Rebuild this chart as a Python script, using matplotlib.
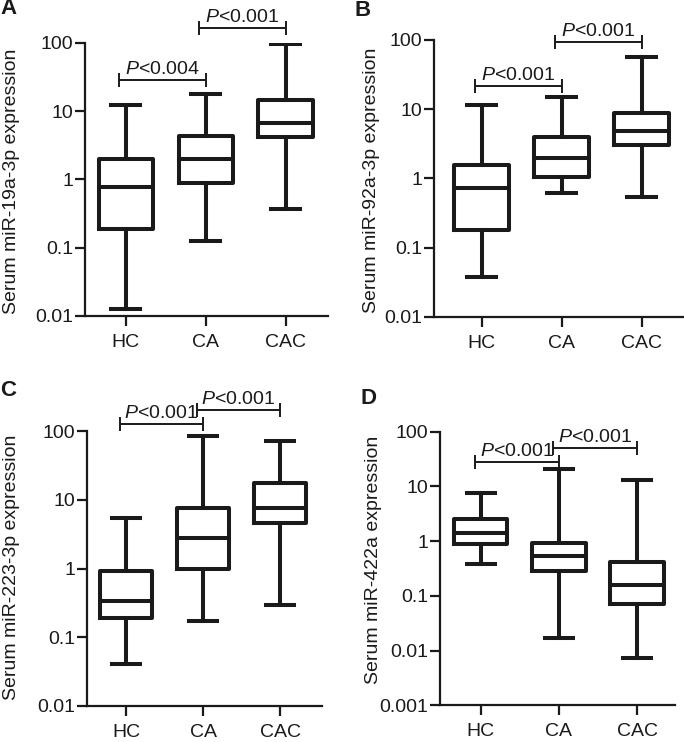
import math
import matplotlib
matplotlib.use("Agg")
import matplotlib.pyplot as plt
from matplotlib.ticker import FixedLocator, FuncFormatter, NullLocator

plt.rcParams['font.family'] = ['Liberation Sans', 'DejaVu Sans']
plt.rcParams['mathtext.fontset'] = 'custom'
plt.rcParams['mathtext.rm'] = 'Liberation Sans'
plt.rcParams['mathtext.it'] = 'Liberation Sans:italic'

categories = ["HC", "CA", "CAC"]

# Panel A: miR-19a-3p
a_whislo = [0.0128, 0.126, 0.368]
a_q1 = [0.19, 0.87, 4.2]
a_med = [0.76, 1.96, 6.6]
a_q3 = [1.96, 4.35, 14.5]
a_whishi = [12.2, 17.5, 97.0]
a_pvals = ["<0.004", "<0.001"]
a_ylabel = "Serum miR-19a-3p expression"

# Panel B: miR-92a-3p
b_whislo = [0.037, 0.62, 0.53]
b_q1 = [0.179, 1.03, 3.03]
b_med = [0.72, 1.95, 4.9]
b_q3 = [1.54, 4.0, 8.7]
b_whishi = [11.5, 14.8, 56.0]
b_pvals = ["<0.001", "<0.001"]
b_ylabel = "Serum miR-92a-3p expression"

# Panel C: miR-223-3p
c_whislo = [0.041, 0.172, 0.291]
c_q1 = [0.193, 1.0, 4.64]
c_med = [0.337, 2.75, 7.5]
c_q3 = [0.92, 7.7, 17.7]
c_whishi = [5.5, 84.0, 71.0]
c_pvals = ["<0.001", "<0.001"]
c_ylabel = "Serum miR-223-3p expression"

# Panel D: miR-422a
d_whislo = [0.39, 0.0172, 0.0072]
d_q1 = [0.875, 0.284, 0.07]
d_med = [1.39, 0.535, 0.158]
d_q3 = [2.5, 0.94, 0.42]
d_whishi = [7.7, 20.5, 13.1]
d_pvals = ["<0.001", "<0.001"]
d_ylabel = "Serum miR-422a expression"

W, H = 684, 742
fig = plt.figure(figsize=(W / 100, H / 100), dpi=100)
col = "#1a1a1a"


def px_axes(left, right, top, bottom):
    return fig.add_axes([left / W, 1 - bottom / H, (right - left) / W, (bottom - top) / H])


panels = [
    dict(letter="A", box=(85, 328, 42.7, 316), xlim=(-0.51, 2.53), ylim=(0.01, 100),
         stats=(a_whislo, a_q1, a_med, a_q3, a_whishi), p=a_pvals, ylabel=a_ylabel,
         br=[(0, 1, 28.4), (1, 2, 162)], lpos=(0, 9), ylpos=(12, 181)),
    dict(letter="B", box=(433.7, 684, 40, 316.7), xlim=(-0.60, 2.53), ylim=(0.01, 100),
         stats=(b_whislo, b_q1, b_med, b_q3, b_whishi), p=b_pvals, ylabel=b_ylabel,
         br=[(0, 1, 21.6), (1, 2, 94.6)], lpos=(355, 11), ylpos=(372, 180)),
    dict(letter="C", box=(86.7, 321.7, 431, 706), xlim=(-0.51, 2.54), ylim=(0.01, 100),
         stats=(c_whislo, c_q1, c_med, c_q3, c_whishi), p=c_pvals, ylabel=c_ylabel,
         br=[(0, 1, 125), (1, 2, 200)], lpos=(0, 391), ylpos=(12, 567)),
    dict(letter="D", box=(440.3, 675.3, 431.7, 705.3), xlim=(-0.52, 2.49), ylim=(0.001, 100),
         stats=(d_whislo, d_q1, d_med, d_q3, d_whishi), p=d_pvals, ylabel=d_ylabel,
         br=[(0, 1, 28.3), (1, 2, 49.6)], lpos=(360, 398), ylpos=(374, 560)),
]

lw = 2.9
fs = 14
for pn in panels:
    ax = px_axes(*pn["box"])
    wl, q1, med, q3, wh = pn["stats"]
    stats = []
    for i in range(3):
        stats.append(dict(whislo=wl[i], q1=q1[i], med=med[i], q3=q3[i], whishi=wh[i],
                          fliers=[], label=categories[i]))
    ax.bxp(stats, positions=[0, 1, 2], widths=0.68, capwidths=0.36, showfliers=False,
           boxprops=dict(color=col, linewidth=lw),
           whiskerprops=dict(color=col, linewidth=lw),
           capprops=dict(color=col, linewidth=lw),
           medianprops=dict(color=col, linewidth=lw))
    ax.set_yscale("log")
    ax.set_ylim(*pn["ylim"])
    ax.set_xlim(*pn["xlim"])
    lo, hi = pn["ylim"]
    ticks = [10 ** k for k in range(int(round(math.log10(lo))), int(round(math.log10(hi))) + 1)]
    ax.yaxis.set_major_locator(FixedLocator(ticks))
    ax.yaxis.set_minor_locator(NullLocator())
    ax.yaxis.set_major_formatter(FuncFormatter(lambda v, p: "{:g}".format(v)))
    ax.set_xticks([0, 1, 2])
    ax.set_xticklabels(categories)
    for s in ["top", "right"]:
        ax.spines[s].set_visible(False)
    for s in ["left", "bottom"]:
        ax.spines[s].set_linewidth(1.6)
        ax.spines[s].set_color(col)
    ax.tick_params(axis="both", length=7, width=1.6, color=col, labelsize=fs,
                   labelcolor=col)
    ax.tick_params(axis="y", pad=1.5)
    ax.tick_params(axis="x", pad=6)
    ax.patch.set_alpha(0)
    # brackets
    lo_l, hi_l = math.log10(lo), math.log10(hi)
    px_per_dec = (pn["box"][3] - pn["box"][2]) / (hi_l - lo_l)
    fac = 10 ** (7 / px_per_dec)
    tfac = 10 ** (6 / px_per_dec)
    for (x0, x1, yv), ptxt in zip(pn["br"], pn["p"]):
        xa, xb = x0 - 0.08, x1
        ax.plot([xa, xb], [yv, yv], color=col, lw=1.4, clip_on=False, solid_capstyle="butt")
        for xx in (xa, xb):
            ax.plot([xx, xx], [yv / fac, yv * fac], color=col, lw=1.4, clip_on=False,
                    solid_capstyle="butt")
        ax.text((xa + xb) / 2, yv * tfac, r"$\it{P}$" + ptxt, ha="center", va="baseline",
                fontsize=fs, color=col, clip_on=False)
    fig.text(pn["ylpos"][0] / W, 1 - pn["ylpos"][1] / H, pn["ylabel"], rotation=90,
             ha="center", va="center", fontsize=fs, color=col)
    fig.text(pn["lpos"][0] / W, 1 - pn["lpos"][1] / H, pn["letter"], fontsize=16,
             fontweight="bold", color=col, ha="left", va="center")

fig.savefig("out.png", dpi=100, facecolor="white")
